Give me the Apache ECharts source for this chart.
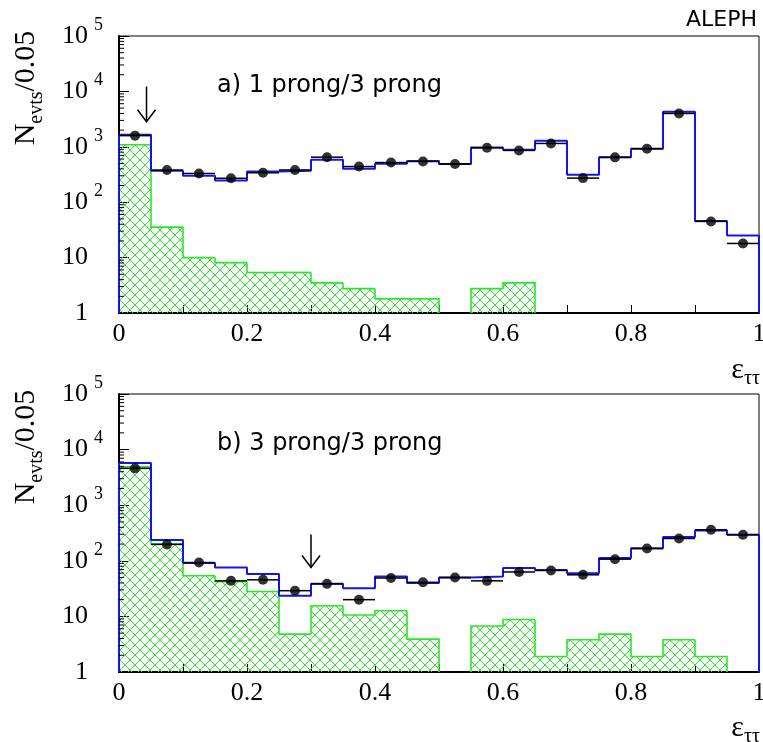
<!DOCTYPE html>
<html>
<head>
<meta charset="utf-8">
<script src="https://cdn.jsdelivr.net/npm/echarts@6/dist/echarts.min.js"></script>
<style>
html,body{margin:0;padding:0;background:#fff;}
#chart{width:763px;height:742px;}
</style>
</head>
<body>
<div id="chart"></div>
<script>
// ---------- data ----------
const EDGES = [0, 0.05, 0.1, 0.15, 0.2, 0.25, 0.3, 0.35, 0.4, 0.45, 0.5,
               0.55, 0.6, 0.65, 0.7, 0.75, 0.8, 0.85, 0.9, 0.95, 1];
const X_TICK_LABELS = ['0', '0.2', '0.4', '0.6', '0.8', '1'];

// a) 1 prong / 3 prong
const DATA_A = [1590, 380, 330, 270, 340, 382, 650, 440, 520, 543, 490, 960, 860, 1150, 272, 645, 925, 4000, 45, 18];
const MC_A   = [1650, 370, 300, 246, 360, 370, 585, 400, 495, 553, 490, 975, 885, 1290, 313, 645, 925, 4310, 46, 25];
const BKG_A  = [1090, 35.5, 10, 8.1, 5.4, 5.4, 3.5, 2.75, 1.8, 1.8, 0, 2.75, 3.5, 0, 0, 0, 0, 0, 0, 0];
const ARROW_A = [[0.043, 12300, 2840]];

// b) 3 prong / 3 prong
const DATA_B = [4600, 197, 93, 43.6, 45.5, 29, 38.5, 20, 49, 41, 50, 43.6, 63, 67, 56, 107, 166, 252, 362, 295];
const MC_B   = [5750, 236, 91, 76, 57.6, 23.4, 38.5, 32, 52, 40, 50, 52, 74, 68, 60, 112, 168, 268, 352, 295];
const BKG_B  = [4880, 202, 54, 42, 28, 4.8, 15.5, 10.6, 12.6, 3.9, 0, 6.7, 8.8, 1.9, 3.8, 4.8, 1.9, 3.8, 1.9, 0];
const ARROW_B = [[0.30, 297, 76]];

const MINOR_MANTISSA = [2, 3, 4, 5, 6, 7, 8, 9];
const DECADES = [1, 10, 100, 1000, 10000];

// ---------- styles ----------
const BLUE = '#1414f0';
const GREEN = '#2be62b';
const SERIF = 'Liberation Serif, Times New Roman, serif';
const SANS = 'DejaVu Sans, sans-serif';

// hatch pattern
const pat = document.createElement('canvas');
pat.width = 10; pat.height = 10;
(function(){
  const c = pat.getContext('2d');
  c.strokeStyle = GREEN; c.lineWidth = 1;
  c.beginPath();
  c.moveTo(-1, -1); c.lineTo(11, 11);
  c.moveTo(11, -1); c.lineTo(-1, 11);
  c.stroke();
})();

// ---------- helpers building library-ready data ----------
function stepData(vals) {
  const last = EDGES[EDGES.length - 1];
  const d = [[EDGES[0], 1]];
  vals.forEach((v, i) => d.push([EDGES[i], v]));
  d.push([last, vals[vals.length - 1]]);
  d.push([last, 1]);
  return d;
}
function bkgItems(vals) {
  const out = [];
  vals.forEach((v, i) => {
    if (v > 0) out.push([EDGES[i], EDGES[i + 1], v,
      i > 0 ? vals[i - 1] : 0, i < vals.length - 1 ? vals[i + 1] : 0]);
  });
  return out;
}
function barItems(vals) {
  return vals.map((v, i) => [EDGES[i], EDGES[i + 1], v]);
}
function pointItems(vals) {
  return vals.map((v, i) => [(EDGES[i] + EDGES[i + 1]) / 2, v]);
}
function minorItems() {
  const out = [];
  DECADES.forEach(d => MINOR_MANTISSA.forEach(m => out.push([0, d * m])));
  return out;
}

function renderBkg(params, api) {
  const x0 = api.value(0), x1 = api.value(1), v = api.value(2);
  const pv = api.value(3), nv = api.value(4);
  const p0 = api.coord([x0, v]), p1 = api.coord([x1, v]);
  const base = api.coord([x0, 1])[1];
  const prevY = pv > 0 ? api.coord([x0, pv])[1] : base;
  const pts = [[p0[0], prevY], [p0[0], p0[1]], [p1[0], p1[1]]];
  if (!(nv > 0)) pts.push([p1[0], base]);
  return {
    type: 'group',
    children: [
      { type: 'rect', shape: { x: p0[0], y: p0[1], width: p1[0] - p0[0], height: base - p0[1] },
        style: { fill: { image: pat, repetition: 'repeat' }, stroke: null } },
      { type: 'polyline', shape: { points: pts },
        style: { stroke: GREEN, lineWidth: 1.6, fill: null } }
    ]
  };
}
function renderBar(params, api) {
  const a = api.coord([api.value(0), api.value(2)]);
  const b = api.coord([api.value(1), api.value(2)]);
  return { type: 'line', shape: { x1: a[0], y1: a[1], x2: b[0], y2: b[1] },
    style: { stroke: '#000', lineWidth: 1.5 } };
}
function renderArrow(params, api) {
  const t = api.coord([api.value(0), api.value(1)]);
  const h = api.coord([api.value(0), api.value(2)]);
  return { type: 'group', children: [
    { type: 'line', shape: { x1: t[0], y1: t[1], x2: h[0], y2: h[1] }, style: { stroke: '#000', lineWidth: 1.5 } },
    { type: 'polyline', shape: { points: [[h[0] - 9, h[1] - 12], [h[0], h[1]], [h[0] + 9, h[1] - 12]] },
      style: { stroke: '#000', lineWidth: 1.5, fill: null } }
  ]};
}
function renderMinor(params, api) {
  const p = api.coord([api.value(0), api.value(1)]);
  return { type: 'line', shape: { x1: p[0], y1: p[1], x2: p[0] + 5, y2: p[1] },
    style: { stroke: '#000', lineWidth: 1 } };
}

function xAxis(idx) {
  return {
    gridIndex: idx, type: 'value', min: 0, max: 1, interval: 0.1,
    axisLine: { lineStyle: { color: '#000', width: 2 } },
    axisTick: { inside: true, length: 8, lineStyle: { color: '#000', width: 1 } },
    splitLine: { show: false },
    axisLabel: {
      margin: 8, color: '#000', fontFamily: SERIF, fontSize: 26,
      formatter: v => {
        const k = Math.round(v * 10);
        return k % 2 === 0 ? X_TICK_LABELS[k / 2] : '';
      }
    }
  };
}
function yAxis(idx) {
  return {
    gridIndex: idx, type: 'log', logBase: 10, min: 1, max: 100000,
    axisLine: { show: true, lineStyle: { color: '#000', width: 2 } },
    axisTick: { show: true, inside: true, length: 10, lineStyle: { color: '#000', width: 1 } },
    splitLine: { show: false },
    axisLabel: {
      margin: 16, color: '#000', fontFamily: SERIF, fontSize: 26,
      formatter: v => {
        const e = Math.round(Math.log10(v));
        if (e === 0) return '{a|1}{p|\u00a0}';
        if (e === 1) return '{a|10}{p|\u00a0}';
        return '{a|10}{s|' + e + '}';
      },
      rich: {
        a: { fontFamily: SERIF, fontSize: 26, lineHeight: 40, color: '#000' },
        s: { fontFamily: SERIF, fontSize: 18, lineHeight: 18, verticalAlign: 'top', padding: [0, 0, 0, 6], color: '#000' },
        p: { fontSize: 18, width: 15, lineHeight: 18 }
      }
    }
  };
}

function panelSeries(idx, data, mc, bkg, arrows) {
  return [
    { type: 'custom', xAxisIndex: idx, yAxisIndex: idx, renderItem: renderBkg,
      encode: { x: [0, 1], y: 2 }, data: bkgItems(bkg), z: 2, silent: true },
    { type: 'line', xAxisIndex: idx, yAxisIndex: idx, step: 'end', data: stepData(mc),
      showSymbol: false, lineStyle: { color: BLUE, width: 2 }, z: 3, silent: true },
    { type: 'custom', xAxisIndex: idx, yAxisIndex: idx, renderItem: renderBar,
      encode: { x: [0, 1], y: 2 }, data: barItems(data), z: 4, silent: true },
    { type: 'scatter', xAxisIndex: idx, yAxisIndex: idx, data: pointItems(data),
      symbol: 'circle', symbolSize: 10, itemStyle: { color: '#000' }, z: 5, silent: true },
    { type: 'custom', xAxisIndex: idx, yAxisIndex: idx, renderItem: renderArrow,
      encode: { x: 0, y: [1, 2] }, data: arrows, z: 6, silent: true },
    { type: 'custom', xAxisIndex: idx, yAxisIndex: idx, renderItem: renderMinor, clip: false,
      encode: { x: 0, y: 1 }, data: minorItems(), z: 6, silent: true }
  ];
}

function yName(y) {
  return { type: 'text', x: 26, y: y, rotation: Math.PI / 2,
    style: { text: '{m|N}{b|evts}{m|/0.05}', align: 'center', verticalAlign: 'middle',
      rich: {
        m: { fontFamily: SERIF, fontSize: 30, lineHeight: 30, verticalAlign: 'top', fill: '#000' },
        b: { fontFamily: SERIF, fontSize: 20, lineHeight: 20, verticalAlign: 'top', padding: [16, 0, 0, 0], fill: '#000' }
      } } };
}
function xName(y) {
  return { type: 'text', x: 760, y: y,
    style: { text: '{m|ε}{b|ττ}', align: 'right', verticalAlign: 'middle',
      rich: {
        m: { fontFamily: SERIF, fontSize: 30, lineHeight: 30, verticalAlign: 'top', fill: '#000' },
        b: { fontFamily: SERIF, fontSize: 20, lineHeight: 20, verticalAlign: 'top', padding: [14, 0, 0, 0], fill: '#000' }
      } } };
}

const chart = echarts.init(document.getElementById('chart'), null, { renderer: 'canvas' });
chart.setOption({
  animation: false,
  backgroundColor: '#fff',
  grid: [
    { left: 119, top: 36, width: 640, height: 277, outerBoundsMode: 'none', containLabel: false,
      show: true, borderColor: '#000', borderWidth: 1, backgroundColor: 'transparent' },
    { left: 119, top: 394, width: 640, height: 278, outerBoundsMode: 'none', containLabel: false,
      show: true, borderColor: '#000', borderWidth: 1, backgroundColor: 'transparent' }
  ],
  xAxis: [xAxis(0), xAxis(1)],
  yAxis: [yAxis(0), yAxis(1)],
  series: [].concat(
    panelSeries(0, DATA_A, MC_A, BKG_A, ARROW_A),
    panelSeries(1, DATA_B, MC_B, BKG_B, ARROW_B)
  ),
  graphic: [
    { type: 'text', x: 757, y: 20, style: { text: 'ALEPH', font: '22px ' + SANS, fill: '#000', align: 'right', verticalAlign: 'middle' } },
    { type: 'text', x: 217, y: 86, style: { text: 'a) 1 prong/3 prong', font: '24px ' + SANS, fill: '#000', align: 'left', verticalAlign: 'middle' } },
    { type: 'text', x: 217, y: 444, style: { text: 'b) 3 prong/3 prong', font: '24px ' + SANS, fill: '#000', align: 'left', verticalAlign: 'middle' } },
    yName(88), yName(447),
    xName(370), xName(728)
  ]
});
</script>
</body>
</html>
